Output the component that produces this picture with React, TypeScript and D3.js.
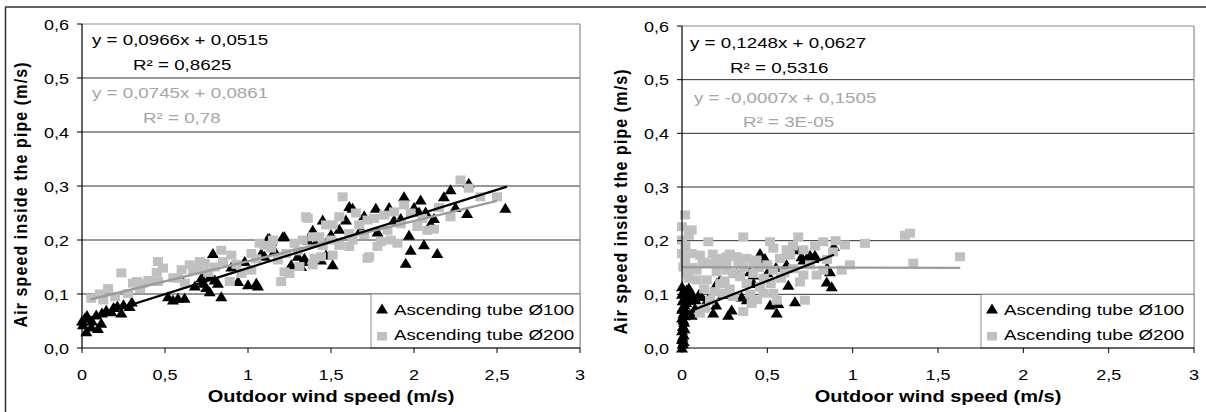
import React from 'react';
import * as d3 from 'd3';

// ---------- data ----------
const xTickValues = [0, 0.5, 1, 1.5, 2, 2.5, 3];
const xTickLabels = ['0', '0,5', '1', '1,5', '2', '2,5', '3'];
const yTickValues = [0, 0.1, 0.2, 0.3, 0.4, 0.5, 0.6];
const yTickLabels = ['0,0', '0,1', '0,2', '0,3', '0,4', '0,5', '0,6'];
const seriesNames = ['Ascending tube Ø100', 'Ascending tube Ø200'];
const xTitle = 'Outdoor wind speed (m/s)';
const yTitle = 'Air speed inside the pipe (m/s)';

const leftAsc100: [number, number][] = [
  [0.006, 0.043], [0.016, 0.055], [0.026, 0.03], [0.056, 0.039], [0.096, 0.036], [0.116, 0.046],
  [0.086, 0.061], [0.146, 0.07], [0.177, 0.067], [0.213, 0.078], [0.237, 0.065], [0.287, 0.077],
  [0.0, 0.05], [0.03, 0.06], [0.518, 0.095], [0.548, 0.089], [0.578, 0.092], [0.618, 0.092],
  [0.588, 0.133], [0.729, 0.12], [0.749, 0.112], [0.769, 0.104], [0.789, 0.175], [0.799, 0.126],
  [0.819, 0.12], [0.839, 0.095], [0.769, 0.132], [0.94, 0.123], [1.0, 0.117], [1.06, 0.115],
  [1.08, 0.175], [1.12, 0.203], [1.14, 0.197], [1.22, 0.206], [1.26, 0.154], [1.32, 0.151],
  [1.34, 0.166], [1.45, 0.237], [1.47, 0.172], [1.39, 0.218], [1.33, 0.16], [1.51, 0.154],
  [1.61, 0.262], [1.63, 0.259], [1.59, 0.237], [1.77, 0.259], [1.94, 0.28], [2.04, 0.274],
  [2.03, 0.252], [2.07, 0.252], [1.97, 0.209], [1.98, 0.181], [2.06, 0.191], [2.14, 0.175],
  [1.95, 0.157], [2.18, 0.28], [2.22, 0.293], [2.33, 0.305], [2.32, 0.249], [2.55, 0.259],
  [1.78, 0.215], [1.88, 0.237], [1.05, 0.12], [1.44, 0.163], [1.21, 0.206], [1.13, 0.203],
  [0.06, 0.05], [0.12, 0.065], [0.19, 0.075], [0.25, 0.08], [0.3, 0.085], [0.68, 0.115],
  [0.72, 0.13], [0.75, 0.14], [0.9, 0.15], [0.98, 0.16], [1.1, 0.17], [1.16, 0.18],
  [1.3, 0.17], [1.36, 0.2], [1.42, 0.2], [1.5, 0.21], [1.55, 0.22], [1.68, 0.22],
  [1.7, 0.245], [1.85, 0.26], [1.92, 0.24], [2.0, 0.26], [2.1, 0.23], [2.12, 0.24], [2.25, 0.26],
];
const leftAsc200: [number, number][] = [
  [0.056, 0.092], [0.157, 0.11], [0.128, 0.089], [0.108, 0.1], [0.237, 0.139], [0.307, 0.12],
  [0.367, 0.12], [0.277, 0.101], [0.33, 0.123], [0.458, 0.16], [0.488, 0.148], [0.458, 0.123],
  [0.578, 0.129], [0.649, 0.154], [0.669, 0.144], [0.739, 0.157], [0.8, 0.15], [0.839, 0.181],
  [0.9, 0.172], [0.89, 0.123], [0.96, 0.138], [1.02, 0.175], [1.02, 0.144], [1.07, 0.194],
  [1.14, 0.185], [1.18, 0.163], [1.2, 0.123], [1.22, 0.141], [1.25, 0.138], [1.28, 0.194],
  [1.31, 0.151], [1.36, 0.24], [1.39, 0.206], [1.4, 0.166], [1.44, 0.169], [1.47, 0.228],
  [1.35, 0.243], [1.57, 0.28], [1.43, 0.206], [1.51, 0.228], [1.39, 0.154], [1.51, 0.172],
  [1.63, 0.2], [1.72, 0.237], [1.73, 0.169], [1.8, 0.197], [1.88, 0.252], [1.94, 0.265],
  [1.82, 0.246], [1.9, 0.194], [1.84, 0.218], [2.02, 0.225], [2.08, 0.218], [2.22, 0.243],
  [2.28, 0.311], [2.33, 0.296], [2.5, 0.28], [1.78, 0.188], [1.67, 0.228], [1.61, 0.212],
  [1.55, 0.243], [1.72, 0.166], [1.61, 0.188], [0.71, 0.16], [0.55, 0.13], [0.4, 0.125], [0.2, 0.095],
  [0.35, 0.11], [0.45, 0.14], [0.6, 0.145], [0.62, 0.12], [0.7, 0.145], [0.76, 0.14],
  [0.85, 0.16], [0.93, 0.155], [1.05, 0.165], [1.1, 0.19], [1.15, 0.2], [1.23, 0.175],
  [1.3, 0.18], [1.33, 0.2], [1.45, 0.19], [1.5, 0.2], [1.55, 0.19], [1.65, 0.25],
  [1.7, 0.21], [1.76, 0.24], [1.86, 0.2], [1.92, 0.23], [1.98, 0.25], [2.05, 0.24],
  [2.12, 0.22], [2.15, 0.26], [2.4, 0.28],
];
const rightAsc100: [number, number][] = [
  [0, 0.0], [0.005, 0.008], [0, 0.016], [0.01, 0.024], [0, 0.032], [0.005, 0.04], [0.012, 0.048],
  [0, 0.056], [0.008, 0.064], [0, 0.072], [0.015, 0.08], [0.004, 0.088], [0.02, 0.095], [0, 0.1],
  [0.01, 0.106], [0.03, 0.1], [0.0, 0.114], [0.027, 0.108], [0.045, 0.104], [0.025, 0.085], [0.02, 0.07],
  [0.01, 0.012], [0.003, 0.02], [0.015, 0.036], [0.008, 0.052], [0.018, 0.06], [0.005, 0.076],
  [0.012, 0.092], [0.035, 0.09], [0.04, 0.112], [0.06, 0.1], [0.08, 0.09], [0.1, 0.1],
  [0.057, 0.061], [0.076, 0.074], [0.047, 0.089], [0.115, 0.096], [0.183, 0.065], [0.271, 0.061],
  [0.291, 0.071], [0.203, 0.12], [0.223, 0.127], [0.32, 0.139], [0.398, 0.142], [0.418, 0.136],
  [0.457, 0.176], [0.486, 0.167], [0.516, 0.08], [0.564, 0.083], [0.555, 0.065], [0.613, 0.155],
  [0.623, 0.117], [0.662, 0.086], [0.672, 0.183], [0.711, 0.164], [0.73, 0.167], [0.75, 0.173],
  [0.769, 0.167], [0.779, 0.173], [0.848, 0.123], [0.877, 0.114], [0.867, 0.142], [0.89, 0.189],
  [0.15, 0.09], [0.35, 0.095], [0.13, 0.08], [0.2, 0.08], [0.24, 0.1], [0.38, 0.09],
  [0.42, 0.12], [0.5, 0.14], [0.55, 0.15], [0.7, 0.17], [0.85, 0.15],
];
const rightAsc200: [number, number][] = [
  [0.018, 0.248], [0, 0.226], [0.057, 0.22], [0, 0.201], [0.018, 0.164], [0.057, 0.176], [0.105, 0.173],
  [0.037, 0.13], [0.086, 0.127], [0.145, 0.127], [0.154, 0.198], [0.164, 0.158], [0.203, 0.167],
  [0.262, 0.17], [0.32, 0.17], [0.359, 0.207], [0.379, 0.167], [0.437, 0.164], [0.516, 0.198],
  [0.535, 0.186], [0.574, 0.167], [0.633, 0.173], [0.681, 0.207], [0.711, 0.183], [0.828, 0.198],
  [0.886, 0.179], [0.955, 0.192], [0.984, 0.155], [0.936, 0.145], [1.072, 0.195], [1.306, 0.21],
  [1.336, 0.214], [1.355, 0.158], [1.629, 0.17], [0.72, 0.089], [0.691, 0.123], [0.711, 0.136],
  [0.789, 0.136], [0.828, 0.145], [0.359, 0.068], [0.408, 0.083], [0.3, 0.096], [0.242, 0.102],
  [0.223, 0.12], [0.164, 0.089], [0.135, 0.074], [0.105, 0.065], [0.457, 0.114], [0.476, 0.102],
  [0.535, 0.102], [0.555, 0.089], [0.535, 0.145], [0.3, 0.139], [0.34, 0.133], [0.262, 0.145],
  [0.203, 0.142], [0.379, 0.12], [0.418, 0.139], [0.652, 0.148], [0.613, 0.183], [0.008, 0.151],
  [0, 0.176], [0.086, 0.145],
  [0.12, 0.16], [0.18, 0.175], [0.22, 0.16], [0.26, 0.155], [0.28, 0.175], [0.33, 0.16],
  [0.36, 0.15], [0.42, 0.16], [0.45, 0.15], [0.5, 0.155], [0.48, 0.13], [0.52, 0.12],
  [0.58, 0.13], [0.6, 0.14], [0.25, 0.125], [0.28, 0.11], [0.19, 0.105], [0.13, 0.11],
  [0.4, 0.1], [0.44, 0.09], [0.65, 0.19], [0.78, 0.19], [0.75, 0.155], [0.85, 0.165],
  [0.9, 0.2], [0.02, 0.19], [0.04, 0.21], [0.03, 0.14], [0.06, 0.15],
];

// trendlines: [slope, intercept], [xmin, xmax]
const leftFit100 = [0.0966, 0.0515];
const leftRange100 = [0, 2.56];
const leftFit200 = [0.0745, 0.0861];
const leftRange200 = [0.05, 2.5];
const rightFit100 = [0.1248, 0.0627];
const rightRange100 = [0, 0.89];
const rightFit200 = [-0.0007, 0.1505];
const rightRange200 = [0, 1.63];

const leftEq = ['y = 0,0966x + 0,0515', 'R² = 0,8625', 'y = 0,0745x + 0,0861', 'R² = 0,78'];
const rightEq = ['y = 0,1248x + 0,0627', 'R² = 0,5316', 'y = -0,0007x + 0,1505', 'R² = 3E-05'];

// ---------- styling ----------
const FONT = "'Liberation Sans', Arial, Helvetica, sans-serif";
const BLACK = '#000000';
const GRAY_PT = '#c0c0c0';
const GRAY_LINE = '#9c9c9c';
const GRAY_TXT = '#a6a6a6';
const GRID = '#303030';
const BORDER = '#8c8c8c';

function T({ x, y, sx = 1.2, anchor = 'start', size = 15, fill = BLACK, weight = 'normal', children }: any) {
  return (
    <text
      transform={`translate(${x},${y}) scale(${sx},1)`}
      textAnchor={anchor}
      fontSize={size}
      fill={fill}
      fontWeight={weight}
      fontFamily={FONT}
    >
      {children}
    </text>
  );
}

const tri = (cx: number, cy: number) => `M${cx},${cy - 5.5}L${cx + 6},${cy + 4.5}L${cx - 6},${cy + 4.5}Z`;

function Panel({ L, a100, a200, fit100, range100, fit200, range200, eq }: any) {
  const x = d3.scaleLinear().domain([0, 3]).range([L.x0, L.x1]);
  const y = d3.scaleLinear().domain([0, 0.6]).range([L.y0, L.y1]);
  const fitPath = (f: number[], r: number[]) =>
    d3.line<number>().x((d) => x(d)).y((d) => y(f[0] * d + f[1]))(r) || '';
  return (
    <g>
      {yTickValues.slice(1, 6).map((v) => (
        <line key={'g' + v} x1={L.x0} x2={L.x1} y1={y(v)} y2={y(v)} stroke={GRID} strokeWidth={1} />
      ))}
      <line x1={L.x0} x2={L.x1} y1={y(0.6)} y2={y(0.6)} stroke={BORDER} strokeWidth={1.2} />
      <line x1={L.x1} x2={L.x1} y1={y(0.6)} y2={y(0)} stroke={BORDER} strokeWidth={1.2} />
      {a100.map((d: number[], i: number) => (
        <path key={'b' + i} d={tri(x(d[0]), y(d[1]))} fill={BLACK} />
      ))}
      {a200.map((d: number[], i: number) => (
        <rect key={'s' + i} x={x(d[0]) - 5} y={y(d[1]) - 4.5} width={10} height={9} fill={GRAY_PT} />
      ))}
      <path d={fitPath(fit200, range200)} stroke={GRAY_LINE} strokeWidth={2.4} fill="none" />
      <path d={fitPath(fit100, range100)} stroke={BLACK} strokeWidth={2.2} fill="none" />
      {/* legend */}
      <rect x={L.legX} y={y(0.1)} width={L.x1 - L.legX} height={y(0) - y(0.1)} fill="#fff" stroke={BORDER} strokeWidth={1} />
      <path d={tri(L.legX + 11, 309)} fill={BLACK} />
      <rect x={L.legX + 6} y={332} width={10} height={8.5} fill={GRAY_PT} />
      <T x={L.legX + 23} y={315} sx={1.25}>{seriesNames[0]}</T>
      <T x={L.legX + 23} y={340} sx={1.25}>{seriesNames[1]}</T>
      {/* axes */}
      <line x1={L.x0} x2={L.x0} y1={y(0.6)} y2={y(0)} stroke={BLACK} strokeWidth={1.2} />
      <line x1={L.x0} x2={L.x1} y1={y(0)} y2={y(0)} stroke={BLACK} strokeWidth={1.2} />
      {yTickValues.map((v, i) => (
        <g key={'yt' + v}>
          <line x1={L.x0 - 5} x2={L.x0} y1={y(v)} y2={y(v)} stroke={BLACK} strokeWidth={1} />
          <T x={L.x0 - 13} y={y(v) + 5.5} anchor="end">{yTickLabels[i]}</T>
        </g>
      ))}
      {xTickValues.map((v, i) => (
        <g key={'xt' + v}>
          <line x1={x(v)} x2={x(v)} y1={y(0)} y2={y(0) + 5} stroke={BLACK} strokeWidth={1} />
          <T x={x(v)} y={380} anchor="middle">{xTickLabels[i]}</T>
        </g>
      ))}
      <T x={(L.x0 + L.x1) / 2} y={402} anchor="middle" size={16} weight="bold" sx={1.25}>{xTitle}</T>
      <text
        transform={`translate(${L.yTitleX},${L.yTitleY}) rotate(-90) scale(1,1.2)`}
        textAnchor="middle"
        fontSize={16}
        fontWeight="bold"
        fontFamily={FONT}
        textLength={265}
        lengthAdjust="spacing"
      >
        {yTitle}
      </text>
      {/* equations */}
      <T x={L.eq[0][0]} y={L.eq[0][1]} sx={1.25}>{eq[0]}</T>
      <T x={L.eq[1][0]} y={L.eq[1][1]} sx={1.25}>{eq[1]}</T>
      <T x={L.eq[2][0]} y={L.eq[2][1]} sx={1.25} fill={GRAY_TXT}>{eq[2]}</T>
      <T x={L.eq[3][0]} y={L.eq[3][1]} sx={1.25} fill={GRAY_TXT}>{eq[3]}</T>
    </g>
  );
}

const leftLayout = {
  x0: 82, x1: 580, y0: 348, y1: 24, legX: 371, yTitleX: 27, yTitleY: 195,
  eq: [[92, 45], [133, 69.5], [92, 98], [143, 123]],
};
const rightLayout = {
  x0: 682, x1: 1194, y0: 348, y1: 26, legX: 981, yTitleX: 627, yTitleY: 202,
  eq: [[690, 48], [730, 72.5], [694, 102.5], [743, 127]],
};

export default function App() {
  return (
    <svg
      width={1206}
      height={412}
      style={{ position: 'absolute', left: 0, top: 0, background: '#fff' }}
    >
      <rect x={0} y={0} width={1206} height={412} fill="#fff" />
      <line x1={5} x2={1206} y1={7} y2={7} stroke="#333" strokeWidth={1.5} />
      <line x1={5.5} x2={5.5} y1={7} y2={412} stroke="#333" strokeWidth={1.5} />
      <Panel L={leftLayout} a100={leftAsc100} a200={leftAsc200} fit100={leftFit100} range100={leftRange100}
        fit200={leftFit200} range200={leftRange200} eq={leftEq} />
      <Panel L={rightLayout} a100={rightAsc100} a200={rightAsc200} fit100={rightFit100} range100={rightRange100}
        fit200={rightFit200} range200={rightRange200} eq={rightEq} />
    </svg>
  );
}
